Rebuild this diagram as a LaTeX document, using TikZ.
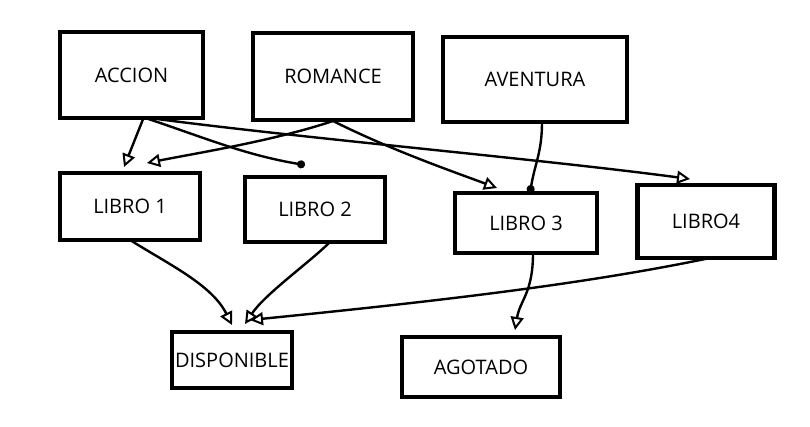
\documentclass[tikz,border=0pt]{standalone}
\usepackage{fontspec}
\setmainfont{Open Sans}
\usetikzlibrary{arrows.meta, positioning}

\tikzset{
    caja/.style={draw, line width=4.5pt, outer sep=0pt, inner sep=0pt,
        font=\fontsize{20}{24}\selectfont},
    flecha/.style={line width=2.4pt, -{Triangle[open, length=13pt, width=13pt, line width=2pt]}},
    punto/.style={line width=2.4pt, -{Circle[length=8pt]}}
}

\begin{document}
\begin{tikzpicture}[x=1pt, y=-1pt]
    \useasboundingbox (0,0) rectangle (810,427);

    % generos
    \node[caja, minimum width=143pt, minimum height=86pt] (accion) at (131.5,75) {ACCION};
    \node[caja, minimum width=160pt, minimum height=87pt] (romance) at (333,76.5) {ROMANCE};
    \node[caja, minimum width=184pt, minimum height=85pt] (aventura) at (535,79.5) {AVENTURA};

    % libros
    \node[caja, minimum width=140pt, minimum height=67pt] (libro1) at (130,206.5) {LIBRO 1};
    \node[caja, minimum width=140pt, minimum height=65pt] (libro2) at (315,209.5) {LIBRO 2};
    \node[caja, minimum width=142pt, minimum height=60pt] (libro3) at (526,223) {LIBRO 3};
    \node[caja, minimum width=137pt, minimum height=73pt] (libro4) at (706,221.5) {LIBRO4};

    % estados
    \node[caja, minimum width=120pt, minimum height=56pt] (disponible) at (232,360) {DISPONIBLE};
    \node[caja, minimum width=158pt, minimum height=60pt] (agotado) at (481,367) {AGOTADO};

    % genero -> libro
    \draw[flecha] ([xshift=12pt]accion.south) -- ([xshift=-6pt, yshift=6pt]libro1.north);
    \draw[punto] ([xshift=14pt]accion.south) .. controls +(60,20) and +(-60,-10) .. ([xshift=-10pt, yshift=12pt]libro2.north);
    \draw[flecha] ([xshift=18pt]accion.south) .. controls +(150,20) and +(-150,-20) .. ([xshift=-16pt, yshift=6pt]libro4.north);
    \draw[flecha] ([yshift=-1pt]romance.south) .. controls +(-60,20) and +(50,-10) .. ([xshift=17pt, yshift=10pt]libro1.north);
    \draw[flecha] ([yshift=-1pt]romance.south) .. controls +(60,30) and +(-40,-15) .. ([xshift=-29pt, yshift=5pt]libro3.north);
    \draw[punto] ([xshift=7pt]aventura.south) .. controls +(0,30) and +(5,-30) .. ([xshift=4pt]libro3.north);

    % libro -> estado
    \draw[flecha] (libro1.south) .. controls +(40,25) and +(-20,-40) .. ([yshift=7pt]disponible.north);
    \draw[flecha] ([xshift=15pt]libro2.south) .. controls +(-20,20) and +(20,-30) .. ([xshift=13pt, yshift=8pt]disponible.north);
    \draw[flecha] ([xshift=4pt]libro4.south) .. controls +(-120,25) and +(200,-20) .. ([xshift=18pt, yshift=12pt]disponible.north);
    \draw[flecha] ([xshift=7pt]libro3.south) .. controls +(0,40) and +(5,-30) .. ([xshift=34pt, yshift=7pt]agotado.north);
\end{tikzpicture}
\end{document}
